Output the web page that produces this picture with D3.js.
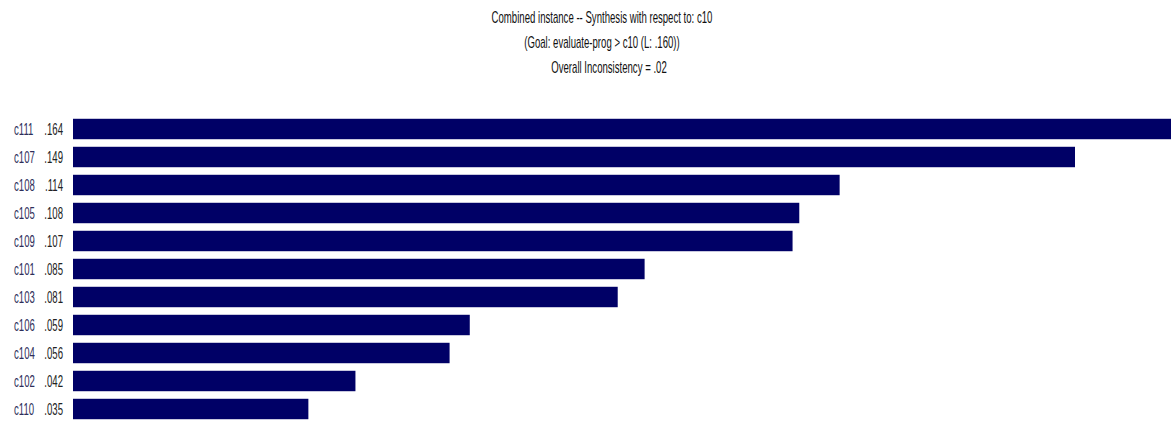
<!DOCTYPE html>
<html>
<head>
<meta charset="utf-8">
<script src="https://cdn.jsdelivr.net/npm/d3@7"></script>
<style>
  body { margin: 0; background: #fff; }
  text { font-family: "Liberation Sans", Arial, sans-serif; }
</style>
</head>
<body>
<div id="vis"></div>
<script>
// chart data
var names = ["c111", "c107", "c108", "c105", "c109", "c101", "c103", "c106", "c104", "c102", "c110"];
var values = [0.164, 0.149, 0.114, 0.108, 0.107, 0.085, 0.081, 0.059, 0.056, 0.042, 0.035];
var valueLabels = [".164", ".149", ".114", ".108", ".107", ".085", ".081", ".059", ".056", ".042", ".035"];
var titleLines = [
	"Combined instance -- Synthesis with respect to: c10",
	"(Goal: evaluate-prog > c10 (L: .160))",
	"Overall Inconsistency = .02"
];

var width = 1171;
var height = 425;

// the original uses a tall narrow font, so squeeze text horizontally
var squeeze = 0.6;

var svg = d3.select("#vis")
	.append("svg")
	.attr("width", width)
	.attr("height", height);

// title block
var titleX = [602, 602, 609];
svg.selectAll("text.title")
	.data(titleLines)
	.enter().append("text")
	.classed("title", true)
	.attr("transform", function(d, i){
		return "translate(" + titleX[i] + "," + (23 + i * 25) + ") scale(" + squeeze + ",1)";
	})
	.attr("text-anchor", "middle")
	.attr("font-size", 16)
	.attr("fill", "#111")
	.text(function(d){ return d; });

// scales
var x = d3.scaleLinear()
	.domain([0, 0.149])
	.range([73, 1075]);

var y = d3.scaleBand()
	.domain(names)
	.range([115, 423])
	.paddingInner(0.27)
	.paddingOuter(0.135);

var rows = names.map(function(n, i){
	return { name: n, value: values[i], label: valueLabels[i] };
});

// bars
svg.selectAll("rect.bar")
	.data(rows)
	.enter().append("rect")
	.classed("bar", true)
	.attr("x", x(0))
	.attr("y", function(d){ return y(d.name); })
	.attr("width", function(d){ return x(d.value) - x(0); })
	.attr("height", y.bandwidth())
	.attr("fill", "#000066");

// name labels
svg.selectAll("text.name")
	.data(rows)
	.enter().append("text")
	.classed("name", true)
	.attr("transform", function(d){
		return "translate(14," + (y(d.name) + y.bandwidth() / 2) + ") scale(" + squeeze + ",1)";
	})
	.attr("dy", "0.36em")
	.attr("font-size", 16)
	.attr("fill", "#2e2e5a")
	.text(function(d){ return d.name; });

// value labels
svg.selectAll("text.val")
	.data(rows)
	.enter().append("text")
	.classed("val", true)
	.attr("transform", function(d){
		return "translate(63," + (y(d.name) + y.bandwidth() / 2) + ") scale(" + squeeze + ",1)";
	})
	.attr("dy", "0.36em")
	.attr("text-anchor", "end")
	.attr("font-size", 16)
	.attr("fill", "#222")
	.text(function(d){ return d.label; });
</script>
</body>
</html>
